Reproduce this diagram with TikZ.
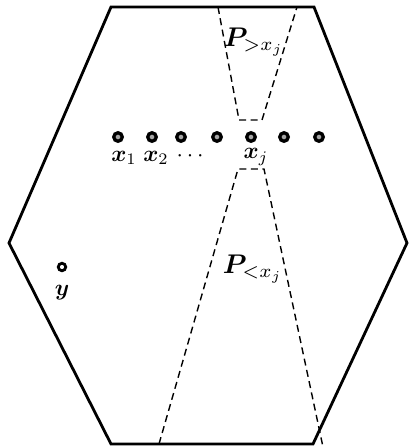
\documentclass[tikz,border=0pt]{standalone}
\usepackage{amsmath,bm}
\begin{document}
\begin{tikzpicture}[x=1pt,y=-1pt,
  hexline/.style={line width=2.8pt,line join=miter},
  dashline/.style={line width=1.4pt,dash pattern=on 7pt off 4.5pt},
  pt/.style={circle,draw=black,line width=3.3pt,fill=gray!70,minimum size=8.5pt,inner sep=0pt},
  ypt/.style={circle,draw=black,line width=2.8pt,fill=white,minimum size=7.5pt,inner sep=0pt},
  lab/.style={inner sep=0pt,scale=2.3},
  plab/.style={inner sep=0pt,scale=2.7}]
\useasboundingbox (0,0) rectangle (408,447);
% hexagon
\coordinate (h1) at (111,7);
\coordinate (h2) at (314,7);
\coordinate (h3) at (407,243);
\coordinate (h4) at (313,444);
\coordinate (h5) at (111,444);
\coordinate (h6) at (9,243);
\draw[hexline] (h1) -- (h2) -- (h3) -- (h4) -- (h5) -- (h6) -- cycle;
% upper trapezoid
\coordinate (u1) at (218,7);
\coordinate (u2) at (239,120);
\coordinate (u3) at (262,120);
\coordinate (u4) at (297,7);
\draw[dashline] (u1) -- (u2) -- (u3) -- (u4);
% lower trapezoid
\coordinate (l1) at (159,444);
\coordinate (l2) at (238,169);
\coordinate (l3) at (264,169);
\coordinate (l4) at (323,447);
\draw[dashline] (l1) -- (l2) -- (l3) -- (l4);
% points
\node[pt] (p1) at (118,137) {};
\node[pt] (p2) at (152,137) {};
\node[pt] (p3) at (181,137) {};
\node[pt] (p4) at (217,137) {};
\node[pt] (p5) at (251,137) {};
\node[pt] (p6) at (284,137) {};
\node[pt] (p7) at (319,137) {};
\node[lab] (lx1) at (124,158) {$\bm{x}_1$};
\node[lab] (lx2) at (156,158) {$\bm{x}_2$};
\node[lab] (ldots) at (192,156) {$\cdots$};
\node[lab] (lxj) at (256,157) {$\bm{x}_j$};
\node[ypt] (y) at (62,267) {};
\node[lab] (ly) at (62,293) {$\bm{y}$};
\node[plab] (P1) at (254,42) {$\bm{P}_{>x_j}$};
\node[plab] (P2) at (253,269) {$\bm{P}_{<x_j}$};
\end{tikzpicture}
\end{document}
